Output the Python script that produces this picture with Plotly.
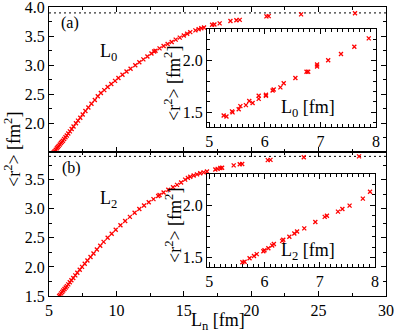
import plotly.graph_objects as go

W, H = 395, 334

# ---------------- data ----------------
top_ln = [5.35, 5.42, 5.50, 5.58, 5.65, 5.72, 5.80, 5.88, 5.95, 6.03, 6.12, 6.22, 6.32,
          6.43, 6.55, 6.68, 6.82, 7.00, 7.15, 7.32, 7.50, 7.70, 7.92, 8.15, 8.40, 8.62,
          8.85, 9.10, 9.35, 9.62, 9.90, 10.15, 10.45, 10.75, 11.05, 11.40, 11.70, 12.00,
          12.30, 12.60, 12.80, 12.90, 13.20, 13.50, 13.80, 14.10, 14.40, 14.70, 15.00,
          15.25, 15.48, 15.86, 16.10, 16.30, 16.50, 17.10, 17.27, 17.66, 18.46, 18.90,
          19.15, 21.13, 21.30, 23.70, 27.70]
top_r2 = [1.50, 1.52, 1.545, 1.57, 1.59, 1.61, 1.635, 1.66, 1.68, 1.70, 1.73, 1.76, 1.79,
          1.825, 1.86, 1.90, 1.945, 2.00, 2.045, 2.095, 2.15, 2.21, 2.27, 2.335, 2.40, 2.465,
          2.52, 2.57, 2.625, 2.675, 2.73, 2.78, 2.835, 2.89, 2.94, 3.00, 3.05, 3.10,
          3.15, 3.20, 3.235, 3.25, 3.29, 3.33, 3.365, 3.40, 3.44, 3.475, 3.51,
          3.54, 3.57, 3.60, 3.62, 3.635, 3.65, 3.695, 3.70, 3.72, 3.76, 3.775,
          3.78, 3.84, 3.845, 3.875, 3.895]

bot_ln = [5.75, 5.82, 5.90, 5.98, 6.06, 6.15, 6.24, 6.33, 6.43, 6.54, 6.66, 6.80, 6.95,
          7.10, 7.28, 7.45, 7.65, 7.85, 8.08, 8.30, 8.55, 8.80, 9.05, 9.35, 9.65, 9.95,
          10.30, 10.65, 11.00, 11.35, 11.70, 12.05, 12.40, 12.75, 13.10, 13.20, 13.50,
          13.85, 14.20, 14.50, 14.80, 15.10, 15.30, 15.48, 15.73, 15.98, 16.22, 16.47,
          16.72, 17.34, 17.51, 17.71, 17.84, 18.70, 19.15, 19.33, 21.23, 21.43, 23.90, 28.00]
bot_r2 = [1.50, 1.52, 1.545, 1.57, 1.595, 1.62, 1.645, 1.67, 1.70, 1.735, 1.77, 1.81, 1.855,
          1.90, 1.95, 2.00, 2.055, 2.11, 2.17, 2.23, 2.30, 2.365, 2.43, 2.50, 2.57, 2.64,
          2.715, 2.79, 2.86, 2.93, 2.995, 3.055, 3.11, 3.165, 3.22, 3.235, 3.28,
          3.325, 3.37, 3.41, 3.45, 3.50, 3.53, 3.55, 3.57, 3.59, 3.61, 3.625,
          3.64, 3.675, 3.685, 3.70, 3.705, 3.745, 3.765, 3.77, 3.835, 3.84, 3.885, 3.90]

ins_top_l0 = [5.26, 5.31, 5.41, 5.42, 5.53, 5.56, 5.66, 5.72, 5.78, 5.89, 5.89, 6.02, 6.02,
              6.14, 6.16, 6.28, 6.34, 6.55, 6.75, 6.78, 6.94, 6.94, 7.14, 7.37, 7.61, 7.87]
ins_top_r2 = [1.47, 1.46, 1.51, 1.50, 1.53, 1.56, 1.57, 1.61, 1.59, 1.63, 1.66, 1.67, 1.66,
              1.71, 1.72, 1.74, 1.78, 1.83, 1.89, 1.89, 1.94, 1.96, 2.00, 2.06, 2.13, 2.21]

ins_bot_l2 = [5.60, 5.64, 5.73, 5.81, 5.86, 5.98, 6.00, 6.07, 6.14, 6.17, 6.32, 6.34, 6.45,
              6.54, 6.59, 6.72, 6.92, 7.09, 7.13, 7.33, 7.41, 7.54, 7.78, 7.91]
ins_bot_r2 = [1.456, 1.46, 1.494, 1.516, 1.533, 1.56, 1.57, 1.59, 1.615, 1.63, 1.66, 1.67, 1.70,
              1.73, 1.75, 1.78, 1.84, 1.89, 1.90, 1.94, 1.965, 1.997, 2.064, 2.13]

dot_level = 3.9

# ---------------- helpers ----------------
def fx(p):
    return p / W

def fy(p):
    return 1 - p / H

FONT = "Liberation Serif"
RED = "#ff0000"

mk = dict(symbol="x-thin", size=4, color=RED, line=dict(width=1.3, color=RED))

fig = go.Figure()
fig.add_trace(go.Scatter(x=top_ln, y=top_r2, mode="markers", marker=mk, xaxis="x", yaxis="y"))
fig.add_trace(go.Scatter(x=bot_ln, y=bot_r2, mode="markers", marker=mk, xaxis="x2", yaxis="y2"))
fig.add_trace(go.Scatter(x=ins_top_l0, y=ins_top_r2, mode="markers", marker=mk, xaxis="x3", yaxis="y3"))
fig.add_trace(go.Scatter(x=ins_bot_l2, y=ins_bot_r2, mode="markers", marker=mk, xaxis="x4", yaxis="y4"))

tickfont = dict(family=FONT, size=16, color="black")

def ax(**kw):
    base = dict(showline=True, linecolor="black", linewidth=1, mirror="ticks",
                ticks="inside", ticklen=5, tickcolor="black", tickwidth=1,
                showgrid=False, zeroline=False, tickfont=tickfont, automargin=False,
                ticklabeloverflow="allow")
    base.update(kw)
    return base

main_x = [fx(49), fx(386)]
fig.update_layout(
    width=W, height=H,
    margin=dict(l=0, r=0, t=0, b=0, pad=0),
    paper_bgcolor="white", plot_bgcolor="white",
    showlegend=False,
    xaxis=ax(domain=main_x, range=[5, 30], anchor="y", dtick=5, showticklabels=False,
             minor=dict(dtick=2.5, ticklen=3, ticks="inside", tickcolor="black")),
    yaxis=ax(domain=[fy(152), fy(7)], range=[1.505, 4.002], anchor="x", dtick=0.5, tick0=1.5,
             tickformat=".1f",
             minor=dict(dtick=0.25, ticklen=3, ticks="inside", tickcolor="black")),
    xaxis2=ax(domain=main_x, range=[5, 30], anchor="y2", dtick=5,
              minor=dict(dtick=2.5, ticklen=3, ticks="inside", tickcolor="black")),
    yaxis2=ax(domain=[fy(296), fy(152)], range=[1.5, 3.975], anchor="x2", dtick=0.5, tick0=1.5,
              tickformat=".1f",
              minor=dict(dtick=0.25, ticklen=3, ticks="inside", tickcolor="black")),
    xaxis3=ax(domain=[fx(207), fx(376)], range=[4.96, 8.0], anchor="y3", dtick=1,
              minor=dict(dtick=0.1, ticklen=3, ticks="inside", tickcolor="black")),
    yaxis3=ax(domain=[fy(127), fy(29)], range=[1.36, 2.30], anchor="x3", dtick=0.5, tick0=1.5,
              tickformat=".1f",
              minor=dict(dtick=0.1, ticklen=3, ticks="inside", tickcolor="black")),
    xaxis4=ax(domain=[fx(207), fx(375)], range=[4.96, 8.0], anchor="y4", dtick=1,
              minor=dict(dtick=0.1, ticklen=3, ticks="inside", tickcolor="black")),
    yaxis4=ax(domain=[fy(267), fy(174)], range=[1.41, 2.30], anchor="x4", dtick=0.5, tick0=1.5,
              tickformat=".1f",
              minor=dict(dtick=0.1, ticklen=3, ticks="inside", tickcolor="black")),
)

# dotted reference lines
for xr, yr in (("x", "y"), ("x2", "y2")):
    fig.add_shape(type="line", xref=xr, yref=yr, x0=5, x1=30, y0=dot_level, y1=dot_level,
                  line=dict(color="black", width=1, dash="2px,3px"), layer="below")

# inset white backgrounds
for x0, x1, y0, y1 in ((207, 376, 29, 127), (207, 375, 174, 267)):
    fig.add_shape(type="rect", xref="paper", yref="paper", x0=fx(x0), x1=fx(x1),
                  y0=fy(y1), y1=fy(y0), fillcolor="white", line=dict(width=0), layer="below")

def ann(text, px, py, size=16, angle=0):
    fig.add_annotation(text=text, x=fx(px), y=fy(py), xref="paper", yref="paper",
                       showarrow=False, textangle=angle, xanchor="center", yanchor="middle",
                       font=dict(family=FONT, size=size, color="black"))

ann("(a)", 70, 23, 16)
ann("(b)", 71, 168, 16)
ann("L<sub>0</sub>", 108, 52, 18)
ann("L<sub>2</sub>", 108, 199, 18)
ann("L<sub>0</sub> [fm]", 308, 108, 18)
ann("L<sub>2</sub> [fm]", 308, 252, 18)
ann("&lt;r<sup>2</sup>&gt; [fm<sup>2</sup>]", 172, 84, 18, -90)
ann("&lt;r<sup>2</sup>&gt; [fm<sup>2</sup>]", 173, 226, 18, -90)
ann("&lt;r<sup>2</sup>&gt; [fm<sup>2</sup>]", 12, 150, 18, -90)
ann("L<sub>n</sub> [fm]", 218, 321, 18)

fig.write_html("out.html", config={"displayModeBar": False},
               post_script="document.body.style.margin='0';document.body.style.padding='0';")
